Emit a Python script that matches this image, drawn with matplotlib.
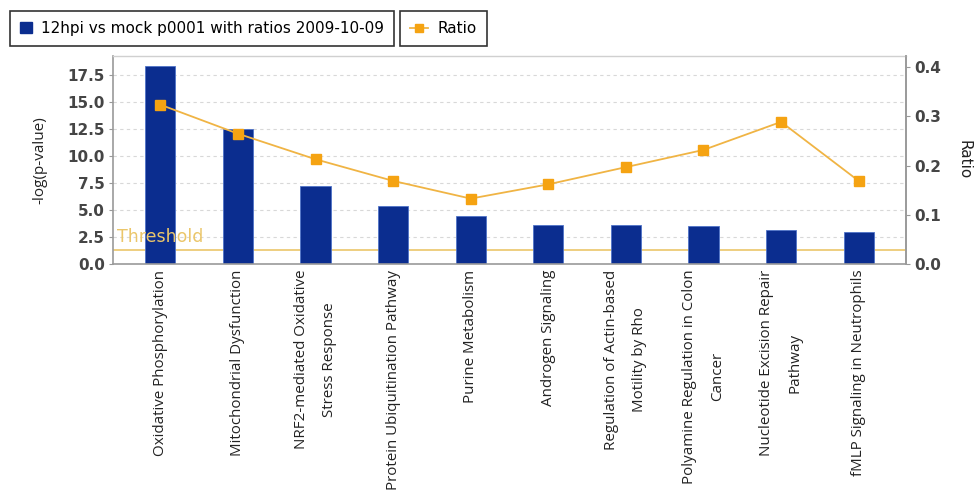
import matplotlib
matplotlib.use("Agg")
import matplotlib.pyplot as plt
from matplotlib.lines import Line2D
from matplotlib.patches import Patch

categories = [
    "Oxidative Phosphorylation",
    "Mitochondrial Dysfunction",
    "NRF2-mediated Oxidative\nStress Response",
    "Protein Ubiquitination Pathway",
    "Purine Metabolism",
    "Androgen Signaling",
    "Regulation of Actin-based\nMotility by Rho",
    "Polyamine Regulation in Colon\nCancer",
    "Nucleotide Excision Repair\nPathway",
    "fMLP Signaling in Neutrophils",
]
neg_log_p = [18.4, 12.5, 7.2, 5.4, 4.5, 3.6, 3.6, 3.5, 3.2, 3.0]
ratio = [0.324, 0.265, 0.213, 0.169, 0.133, 0.162, 0.197, 0.232, 0.289, 0.169]
threshold = 1.3
left_ticks = [0.0, 2.5, 5.0, 7.5, 10.0, 12.5, 15.0, 17.5]
right_ticks = [0.0, 0.1, 0.2, 0.3, 0.4]

bar_color = "#0B2D8F"
line_color = "#F0B444"
marker_color = "#F5A312"
thr_color = "#EBC66A"

fig = plt.figure(figsize=(9.78, 4.91), dpi=100)
ax = fig.add_axes([113 / 978, 1 - 264 / 491, (906 - 113) / 978, (264 - 56) / 491])
x = list(range(len(categories)))

ax.bar(x, neg_log_p, width=0.39, color=bar_color, edgecolor="#4F73C8", linewidth=0.6, zorder=2)
ax.axhline(threshold, color=thr_color, lw=1.2, zorder=1.5)
ax.text(-0.56, threshold + 0.35, "Threshold", color=thr_color, fontsize=12.5,
        va="bottom", ha="left", zorder=3)

ax.set_xlim(-0.61, 9.61)
ax.set_ylim(0, 19.3)
ax.set_yticks(left_ticks)
ax.set_yticklabels([f"{v:.1f}" for v in left_ticks], fontsize=11, fontweight="bold", color="#454545")
ax.yaxis.grid(True, linestyle=(0, (3, 3)), color="#D8D8D8", lw=0.8, zorder=0)
ax.set_axisbelow(True)
ax.set_ylabel("-log(p-value)", fontsize=11, family="Open Sans", color="#222222", labelpad=14)
ax.set_xticks(x)
ax.set_xticklabels(categories, rotation=90, fontsize=10.9, family="Open Sans",
                   color="#222222", ha="center", va="top", linespacing=2.2)
ax.tick_params(axis="x", length=0, pad=4)
ax.tick_params(axis="y", length=3, color="#999999", pad=3)
for s in ["left", "bottom", "right"]:
    ax.spines[s].set_color("#9A9A9A")
    ax.spines[s].set_linewidth(1.2)
ax.spines["top"].set_color("#D0D0D0")
ax.spines["top"].set_linewidth(1.0)

ax2 = ax.twinx()
ax2.plot(x, ratio, color=line_color, lw=1.3, marker="s", markersize=7.5,
         markerfacecolor=marker_color, markeredgecolor=marker_color, zorder=4)
ax2.set_ylim(0, 0.423)
ax2.set_yticks(right_ticks)
ax2.set_yticklabels([f"{v:.1f}" for v in right_ticks], fontsize=11, fontweight="bold", color="#454545")
ax2.tick_params(axis="y", length=3, color="#999999", pad=3)
ax2.set_ylabel("Ratio", fontsize=11, rotation=270, color="#222222", labelpad=22)
for s in ax2.spines.values():
    s.set_visible(False)
ax2.spines["right"].set_visible(True)
ax2.spines["right"].set_color("#9A9A9A")
ax2.spines["right"].set_linewidth(1.2)

h1 = [Patch(facecolor=bar_color, edgecolor=bar_color)]
leg1 = fig.legend(h1, ["12hpi vs mock p0001 with ratios 2009-10-09"], loc="upper left",
                  bbox_to_anchor=(10 / 978, 1 - 11 / 491), fontsize=11, fancybox=False,
                  edgecolor="#333333", framealpha=1, handlelength=0.8, handleheight=0.8,
                  handletextpad=0.6, borderpad=0.65, borderaxespad=0)
leg1.get_frame().set_linewidth(1.2)
h2 = [Line2D([0], [0], color=line_color, lw=1.3, marker="s", markersize=6,
             markerfacecolor=marker_color, markeredgecolor=marker_color)]
leg2 = fig.legend(h2, ["Ratio"], loc="upper left", bbox_to_anchor=(400 / 978, 1 - 11 / 491),
                  fontsize=11, fancybox=False, edgecolor="#333333", framealpha=1,
                  handlelength=1.2, handletextpad=0.6, borderpad=0.65, borderaxespad=0)
leg2.get_frame().set_linewidth(1.2)

fig.savefig("out.png", dpi=100, facecolor="white")
